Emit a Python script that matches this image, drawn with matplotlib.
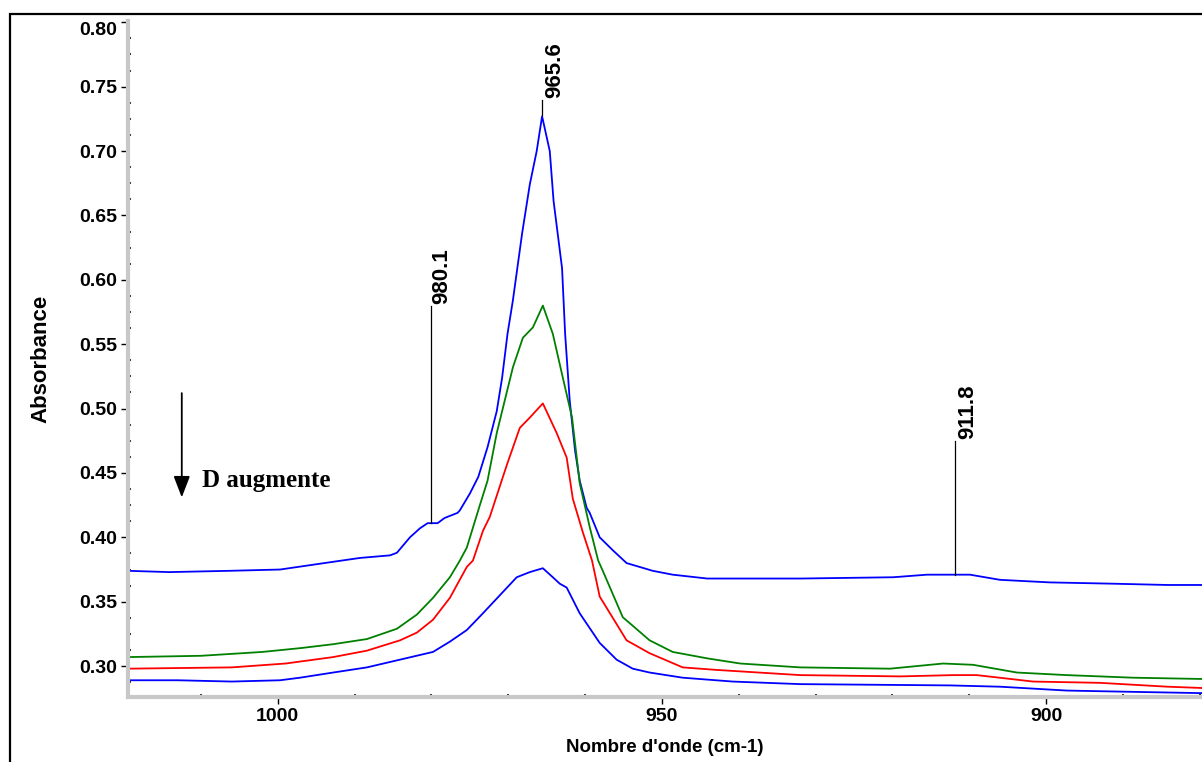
import matplotlib
matplotlib.use("Agg")
import matplotlib.pyplot as plt
from matplotlib.ticker import MultipleLocator, FormatStrFormatter
from matplotlib.patches import Rectangle

# ---------------- data ----------------
wn_blue_top = [1019.5, 1014.1, 1006.3, 999.7, 992.8, 989.3, 985.4, 984.5, 982.8, 981.5,
               980.5, 979.2, 978.3, 976.6, 976.3, 975.0, 973.9, 972.7, 971.5, 970.8,
               970.1, 969.4, 968.2, 967.2, 966.3, 965.6, 964.6, 964.1, 963.0, 962.6,
               962.0, 961.3, 960.7, 959.8, 959.4, 958.1, 956.4, 954.6, 952.9, 951.2,
               948.6, 944.1, 932.0, 919.9, 915.5, 912.1, 909.9, 906.0, 899.5, 891.3,
               884.2, 879.7]
abs_blue_top = [0.374, 0.373, 0.374, 0.375, 0.381, 0.384, 0.386, 0.388, 0.400, 0.407,
                0.411, 0.411, 0.415, 0.419, 0.421, 0.434, 0.447, 0.470, 0.498, 0.524,
                0.558, 0.584, 0.636, 0.674, 0.700, 0.727, 0.700, 0.661, 0.609, 0.558,
                0.506, 0.467, 0.444, 0.423, 0.419, 0.400, 0.390, 0.380, 0.377, 0.374,
                0.371, 0.368, 0.368, 0.369, 0.371, 0.371, 0.371, 0.367, 0.365, 0.364,
                0.363, 0.363]

wn_green = [1019.5, 1010.0, 1002.0, 997.0, 992.8, 988.4, 984.5, 981.9, 979.8, 977.6,
            976.3, 975.4, 973.7, 972.7, 971.5, 969.4, 968.1, 966.8, 965.5, 964.2,
            962.9, 961.7, 960.7, 959.4, 958.3, 957.7, 955.1, 951.6, 948.6, 944.1,
            939.8, 932.0, 920.3, 913.4, 909.5, 903.8, 897.3, 888.7, 879.7]
abs_green = [0.307, 0.308, 0.311, 0.314, 0.317, 0.321, 0.329, 0.340, 0.353, 0.369,
             0.382, 0.392, 0.425, 0.444, 0.481, 0.532, 0.555, 0.563, 0.580, 0.558,
             0.524, 0.493, 0.442, 0.408, 0.382, 0.374, 0.338, 0.320, 0.311, 0.306,
             0.302, 0.299, 0.298, 0.302, 0.301, 0.295, 0.293, 0.291, 0.290]

wn_red = [1019.5, 1006.0, 999.0, 992.8, 988.4, 984.1, 981.9, 979.8, 977.6, 975.4,
          974.6, 973.3, 972.4, 970.2, 968.5, 967.2, 965.5, 963.7, 962.4, 961.6,
          960.3, 959.1, 958.1, 954.6, 951.6, 947.3, 942.8, 932.0, 919.0, 912.1,
          909.0, 901.7, 893.0, 884.2, 879.7]
abs_red = [0.298, 0.299, 0.302, 0.307, 0.312, 0.320, 0.326, 0.336, 0.353, 0.377,
           0.382, 0.405, 0.416, 0.456, 0.485, 0.493, 0.504, 0.481, 0.462, 0.430,
           0.404, 0.382, 0.354, 0.320, 0.310, 0.299, 0.297, 0.293, 0.292, 0.293,
           0.293, 0.288, 0.287, 0.284, 0.283]

wn_blue_bot = [1019.5, 1013.0, 1006.0, 999.7, 997.1, 992.8, 988.4, 984.1, 979.8, 977.6,
               975.4, 973.3, 971.1, 968.9, 967.2, 965.5, 964.2, 963.3, 962.4, 960.7,
               958.1, 955.9, 953.8, 951.6, 947.3, 940.8, 932.0, 912.5, 906.0, 897.3,
               888.7, 879.7]
abs_blue_bot = [0.289, 0.289, 0.288, 0.289, 0.291, 0.295, 0.299, 0.305, 0.311, 0.319,
                0.328, 0.341, 0.355, 0.369, 0.373, 0.376, 0.369, 0.364, 0.361, 0.341,
                0.318, 0.305, 0.298, 0.295, 0.291, 0.288, 0.286, 0.285, 0.284, 0.281,
                0.280, 0.279]

peak_labels = ["965.6", "980.1", "911.8"]
peak_wn = [965.6, 980.1, 911.8]
peak_abs = [0.728, 0.411, 0.371]
label_abs = [0.740, 0.580, 0.475]

x_label = "Nombre d'onde (cm-1)"
y_label = "Absorbance"
note_text = "D augmente"

# ---------------- figure ----------------
W, H = 1202, 762
fig = plt.figure(figsize=(W / 100, H / 100), dpi=100)
ax = fig.add_axes([128 / W, (H - 697) / H, (W - 128) / W, (697 - 21) / H])

sans = "Liberation Sans"
serif = "Liberation Serif"

ax.plot(wn_blue_top, abs_blue_top, color="#0000ff", lw=1.3)
ax.plot(wn_green, abs_green, color="#008000", lw=1.3)
ax.plot(wn_red, abs_red, color="#ff0000", lw=1.3)
ax.plot(wn_blue_bot, abs_blue_bot, color="#0000ff", lw=1.3)

ax.set_xlim(1019.5, 879.7)
ax.set_ylim(0.276, 0.801)

ax.xaxis.set_major_locator(MultipleLocator(50))
ax.xaxis.set_minor_locator(MultipleLocator(10))
ax.yaxis.set_major_locator(MultipleLocator(0.05))
ax.yaxis.set_minor_locator(MultipleLocator(0.0125))
ax.yaxis.set_major_formatter(FormatStrFormatter("%.2f"))
ax.xaxis.set_major_formatter(FormatStrFormatter("%d"))

for side in ("top", "right"):
    ax.spines[side].set_visible(False)
for side in ("left", "bottom"):
    ax.spines[side].set_color("#c8c8c8")
    ax.spines[side].set_linewidth(3)

ax.tick_params(axis="both", which="major", length=5, width=1, color="black",
               direction="out", pad=3)
ax.tick_params(axis="both", which="minor", length=2, width=1.5, color="#333333",
               direction="in")

for lab in ax.get_xticklabels() + ax.get_yticklabels():
    lab.set_fontfamily(sans)
    lab.set_fontweight("bold")
    lab.set_fontsize(14)

fig.canvas.draw()
for lab in ax.get_yticklabels():
    if lab.get_text() == "0.80":
        lab.set_verticalalignment("top")

ax.set_xlabel(x_label, fontfamily=sans, fontweight="bold", fontsize=13.5, labelpad=10)
ax.set_ylabel(y_label, fontfamily=sans, fontweight="bold", fontsize=16, labelpad=20)

# peak annotations
offsets = [1.6, 1.4, 1.6]
for txt, xw, ya, yl, dx in zip(peak_labels, peak_wn, peak_abs, label_abs, offsets):
    ax.plot([xw, xw], [ya, yl], color="black", lw=0.9)
    ax.text(xw - dx, yl + 0.001, txt, rotation=90, ha="center", va="bottom",
            fontfamily=sans, fontweight="bold", fontsize=16)

# arrow + note
ax.annotate("", xy=(1012.5, 0.431), xytext=(1012.5, 0.512),
            arrowprops=dict(arrowstyle="-|>,head_length=1.3,head_width=0.5",
                            color="black", lw=1.3, shrinkA=0, shrinkB=0))
ax.text(1009.9, 0.444, note_text, ha="left", va="center",
        fontfamily=serif, fontweight="bold", fontsize=18)

# outer frame
fig.patches.append(Rectangle((10 / W, -0.1), 1.2, (H - 14) / H + 0.1,
                             transform=fig.transFigure, fill=False,
                             edgecolor="black", lw=1.6, clip_on=False))

fig.savefig("out.png", dpi=100)
